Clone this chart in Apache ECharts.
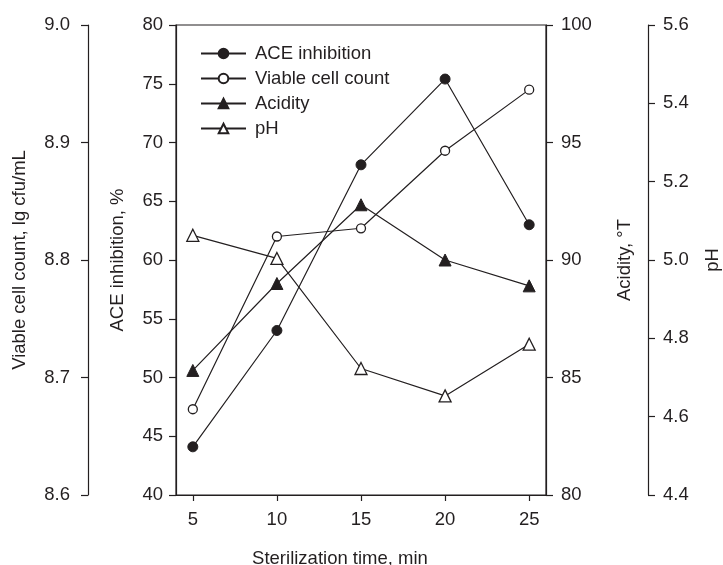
<!DOCTYPE html>
<html>
<head>
<meta charset="utf-8">
<script src="https://cdn.jsdelivr.net/npm/echarts@6/dist/echarts.min.js"></script>
<style>
  html, body { margin: 0; padding: 0; background: #fff; overflow: hidden; }
  #chart { width: 723px; height: 565px; }
</style>
</head>
<body>
<div id="chart"></div>
<script>
// sterilization time, min
var times = [5, 10, 15, 20, 25];
// values
var aceInhibition = [44.1, 54.0, 68.1, 75.4, 63.0];      // %
var viableCount = [8.673, 8.820, 8.827, 8.893, 8.945];    // lg cfu/mL
var acidity = [85.3, 89.0, 92.35, 90.0, 88.9];            // °T
var phValues = [5.063, 5.004, 4.723, 4.653, 4.785];

var xTicks = [5, 10, 15, 20, 25];

var ink = '#231f20';
var font = 'Liberation Sans, Arial, sans-serif';
var fs = 18.5;

function pairs(vals) {
    return times.map(function (t, i) { return [t, vals[i]]; });
}

function yAxis(opts, margin, fmt) {
    return Object.assign({
        type: 'value',
        nameLocation: 'middle',
        nameTextStyle: { color: ink, fontSize: fs, fontFamily: font },
        axisLine: { show: true, lineStyle: { color: ink, width: 1.2 } },
        axisTick: { show: true, length: 7, lineStyle: { color: ink, width: 1.2 } },
        axisLabel: { color: ink, fontSize: fs, fontFamily: font, margin: margin, formatter: fmt },
        splitLine: { show: false }
    }, opts);
}

function oneDecimal(v) { return v.toFixed(1); }

var chart = echarts.init(document.getElementById('chart'));

var option = {
    backgroundColor: '#fff',
    animation: false,
    grid: {
        left: 176, right: 177, top: 25, bottom: 70,
        outerBoundsMode: 'none',
        show: true, borderColor: ink, borderWidth: 1.2, backgroundColor: 'transparent'
    },
    legend: {
        orient: 'vertical',
        left: 195, top: 39,
        itemWidth: 45, itemHeight: 12, itemGap: 6,
        textStyle: { color: ink, fontSize: fs, fontFamily: font, padding: [0, 0, 0, 4] },
        data: ['ACE inhibition', 'Viable cell count', 'Acidity', 'pH']
    },
    xAxis: {
        type: 'value',
        min: 4, max: 26,
        name: 'Sterilization time, min',
        nameLocation: 'middle',
        nameGap: 54,
        nameTextStyle: { color: ink, fontSize: fs, fontFamily: font, padding: [0, 42, 0, 0] },
        axisLine: { show: true, lineStyle: { color: ink, width: 1.2 } },
        axisTick: { show: true, length: 6, customValues: xTicks, lineStyle: { color: ink, width: 1.2 } },
        axisLabel: { color: ink, fontSize: fs, fontFamily: font, margin: 15, customValues: xTicks },
        splitLine: { show: false }
    },
    yAxis: [
        yAxis({ position: 'left', offset: 0, min: 40, max: 80, interval: 5,
                name: 'ACE inhibition, %', nameGap: 49 }, 13),
        yAxis({ position: 'left', offset: 88, min: 8.6, max: 9.0, interval: 0.1,
                name: 'Viable cell count, lg cfu/mL', nameGap: 59 }, 18, oneDecimal),
        yAxis({ position: 'right', offset: 0, min: 80, max: 100, interval: 5,
                name: 'Acidity, \u00b0T', nameGap: 69 }, 15),
        yAxis({ position: 'right', offset: 102, min: 4.4, max: 5.6, interval: 0.2,
                name: 'pH', nameGap: 55 }, 15, oneDecimal)
    ],
    series: [
        {
            name: 'ACE inhibition', type: 'line', yAxisIndex: 0,
            data: pairs(aceInhibition),
            symbol: 'circle', symbolSize: 10,
            lineStyle: { color: ink, width: 1.2 },
            itemStyle: { color: ink, borderColor: ink, borderWidth: 1 },
            z: 4
        },
        {
            name: 'Viable cell count', type: 'line', yAxisIndex: 1,
            data: pairs(viableCount),
            symbol: 'circle', symbolSize: 9,
            lineStyle: { color: ink, width: 1.2 },
            itemStyle: { color: '#fff', borderColor: ink, borderWidth: 1.3 },
            z: 4
        },
        {
            name: 'Acidity', type: 'line', yAxisIndex: 2,
            data: pairs(acidity),
            symbol: 'triangle', symbolSize: 12,
            lineStyle: { color: ink, width: 1.2 },
            itemStyle: { color: ink, borderColor: ink, borderWidth: 1 },
            z: 4
        },
        {
            name: 'pH', type: 'line', yAxisIndex: 3,
            data: pairs(phValues),
            symbol: 'triangle', symbolSize: 12,
            lineStyle: { color: ink, width: 1.2 },
            itemStyle: { color: '#fff', borderColor: ink, borderWidth: 1.3 },
            z: 4
        }
    ]
};

chart.setOption(option);
</script>
</body>
</html>
